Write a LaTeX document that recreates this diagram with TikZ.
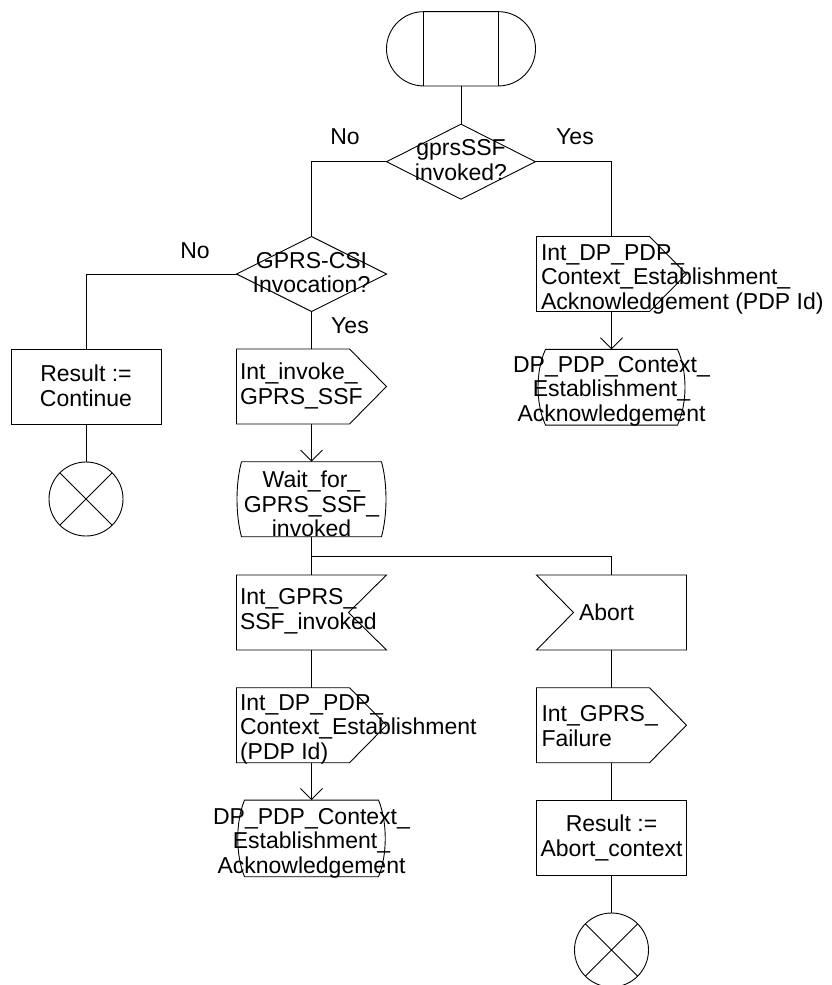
\documentclass[tikz,border=0pt]{standalone}
\usepackage{fontspec}
\setmainfont{Liberation Sans}
\usetikzlibrary{arrows.meta,shapes.misc}
\newcommand\outsig[1]{\draw (#1.north west) -- ([xshift=-37pt]#1.north east) -- (#1.east) -- ([xshift=-37pt]#1.south east) -- (#1.south west) -- cycle;}
\newcommand\insigR[1]{\draw (#1.north west) -- (#1.north east) -- ([xshift=-38pt]#1.east) -- (#1.south east) -- (#1.south west) -- cycle;}
\newcommand\insigL[1]{\draw (#1.north west) -- (#1.north east) -- (#1.south east) -- (#1.south west) -- ([xshift=37pt]#1.west) -- cycle;}
\newcommand\stateshape[2]{\draw ([xshift=#2]#1.north west) -- ([xshift=-#2]#1.north east) .. controls ([xshift=1pt,yshift=-22pt]#1.north east) and ([xshift=1pt,yshift=22pt]#1.south east) .. ([xshift=-#2]#1.south east) -- ([xshift=#2]#1.south west) .. controls ([xshift=-1pt,yshift=22pt]#1.south west) and ([xshift=-1pt,yshift=-22pt]#1.north west) .. ([xshift=#2]#1.north west) -- cycle;}
\begin{document}
\begin{tikzpicture}[x=1pt,y=-1pt, line width=0.9pt,
  every node/.style={font=\fontsize{23}{24.5}\selectfont, inner sep=0pt, outer sep=0pt},
  frame/.style={rectangle, minimum width=150pt, minimum height=75pt},
  lbl/.style={align=center},
  ltxt/.style={align=left, anchor=west},
  arr/.style={-{Straight Barb[length=11pt,width=22pt]}},
  endc/.style={circle, draw, minimum size=74pt},
  term/.style={rounded rectangle, draw, minimum width=149pt, minimum height=74.3pt},
]
\useasboundingbox (0,0) rectangle (831,985);

% start
\node[term] (start) at (461,48.8) {};
\draw ([xshift=-37.4pt]start.north) -- ([xshift=-37.4pt]start.south);
\draw ([xshift=37.6pt]start.north) -- ([xshift=37.6pt]start.south);

% decision 1
\node[frame, minimum width=149pt] (d1) at (461,161.7) {};
\draw (d1.north) -- (d1.east) -- (d1.south) -- (d1.west) -- cycle;
\node[lbl] (d1t) at (461,160) {gprsSSF\\invoked?};
\node (no1) at (345,137) {No};
\node (yes1) at (575,137) {Yes};

% decision 2
\node[frame] (d2) at (311.5,274) {};
\draw (d2.north) -- (d2.east) -- (d2.south) -- (d2.west) -- cycle;
\node[lbl] (d2t) at (311.5,272.5) {GPRS-CSI\\Invocation?};
\node (no2) at (195,251) {No};
\node (yes2) at (350,325.5) {Yes};

% right top output
\node[frame] (out1) at (611.5,274) {};
\outsig{out1}
\node[ltxt] (out1t) at (541,279) {Int\_DP\_PDP\_\\Context\_Establishment\_\\Acknowledgement (PDP Id)};

% right state
\node[frame, minimum height=75.7pt] (ds1) at (611.5,387.2) {};
\stateshape{ds1}{9pt}
\node[lbl] (ds1t) at (611.5,391) {DP\_PDP\_Context\_\\Establishment\_\\Acknowledgement};

% result continue
\node[frame, draw] (res1) at (86,386.5) {};
\node[lbl] (res1t) at (86,386) {Result :=\\Continue};
\node[endc] (stop1) at (86,499) {};
\draw (stop1.45) -- (stop1.225) (stop1.135) -- (stop1.315);

% invoke output
\node[frame] (inv) at (311.5,386.5) {};
\outsig{inv}
\node[ltxt] (invt) at (240,386) {Int\_invoke\_\\GPRS\_SSF};

% wait state
\node[frame] (wait) at (311.5,499.2) {};
\stateshape{wait}{5pt}
\node[lbl] (waitt) at (311.5,504) {Wait\_for\_\\GPRS\_SSF\_\\invoked};

% input int gprs ssf invoked
\node[frame] (in1) at (311.5,612.5) {};
\insigR{in1}
\node[ltxt] (in1t) at (240,611) {Int\_GPRS\_\\SSF\_invoked};

% abort input
\node[frame] (abort) at (611.5,612.5) {};
\insigL{abort}
\node[ltxt] (abortt) at (579,612) {Abort};

% output dp pdp
\node[frame] (out2) at (311.5,725.2) {};
\outsig{out2}
\node[ltxt] (out2t) at (240,729) {Int\_DP\_PDP\_\\Context\_Establishment\\(PDP Id)};

% failure output
\node[frame] (fail) at (611.5,725.2) {};
\outsig{fail}
\node[ltxt] (failt) at (541.5,726) {Int\_GPRS\_\\Failure};

% bottom left state
\node[frame, minimum height=76.7pt] (ds2) at (311.5,838.4) {};
\stateshape{ds2}{8pt}
\node[lbl] (ds2t) at (311.5,843) {DP\_PDP\_Context\_\\Establishment\_\\Acknowledgement};

% result abort
\node[frame, draw] (res2) at (611.5,838.2) {};
\node[lbl] (res2t) at (611.5,838) {Result :=\\Abort\_context};
\node[endc] (stop2) at (611.5,950) {};
\draw (stop2.45) -- (stop2.225) (stop2.135) -- (stop2.315);

% connectors
\draw (start.south) -- (d1.north);
\draw (d1.west) -| (d2.north);
\draw (d1.east) -| (out1.north);
\draw[arr] (out1.south) -- (ds1.north);
\draw (d2.west) -| (res1.north);
\draw (res1.south) -- (stop1.north);
\draw (d2.south) -- (inv.north);
\draw[arr] (inv.south) -- (wait.north);
\coordinate (br) at (311.5,556);
\draw (wait.south) -- (br) -- (in1.north);
\draw (br) -| (abort.north);
\draw (in1.south) -- (out2.north);
\draw[arr] (out2.south) -- (ds2.north);
\draw (abort.south) -- (fail.north);
\draw (fail.south) -- (res2.north);
\draw (res2.south) -- (stop2.north);
\end{tikzpicture}
\end{document}
